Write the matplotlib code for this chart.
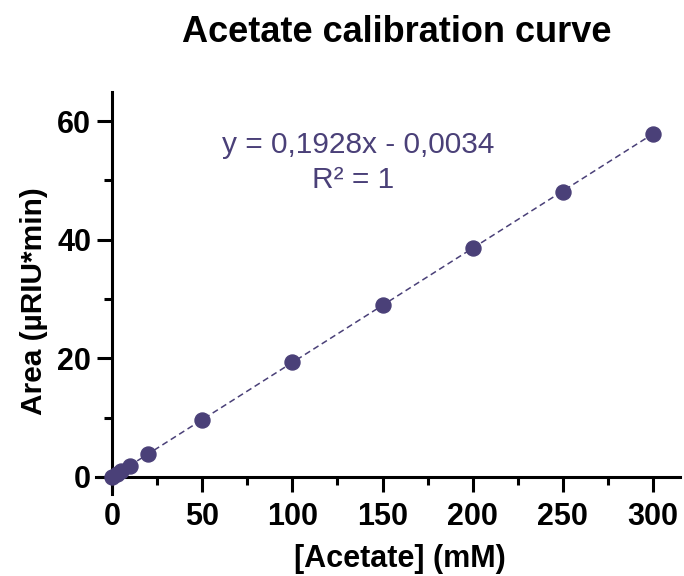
import matplotlib
matplotlib.use("Agg")
import matplotlib.pyplot as plt
import numpy as np
from matplotlib.ticker import MultipleLocator

plt.rcParams['font.family'] = ['Liberation Sans', 'DejaVu Sans']

# Data
acetate_mM = [0, 2.5, 5, 10, 20, 50, 100, 150, 200, 250, 300]
area = [0.0, 0.5, 1.0, 1.9, 3.9, 9.6, 19.3, 29.0, 38.6, 48.1, 57.8]
slope = 0.1928
intercept = -0.0034
title = "Acetate calibration curve"
xlabel = "[Acetate] (mM)"
ylabel = "Area (µRIU*min)"
eq_text = "y = 0,1928x - 0,0034"
r2_text = "R² = 1"

color = '#4a4078'
W, H = 684, 576

fig = plt.figure(figsize=(6.84, 5.76), dpi=100)
ax = fig.add_axes([96/W, (H-494)/H, (680-96)/W, (494-92)/H])

ax.plot(acetate_mM, area, 'o', color=color, markersize=10.8, zorder=3, clip_on=False)
xfit = np.array([acetate_mM[0], acetate_mM[-1]])
ax.plot(xfit, slope*xfit + intercept, '--', color=color, linewidth=1.1,
        dashes=(4, 2.5), zorder=2)

ax.set_xlim(-8.9, 315)
ax.set_ylim(-2.9, 64.9)

for s in ['top', 'right']:
    ax.spines[s].set_visible(False)
ax.spines['left'].set_position(('data', 0))
ax.spines['bottom'].set_position(('data', 0))
for s in ['left', 'bottom']:
    ax.spines[s].set_linewidth(2.2)

ax.xaxis.set_major_locator(MultipleLocator(50))
ax.xaxis.set_minor_locator(MultipleLocator(25))
ax.yaxis.set_major_locator(MultipleLocator(20))
ax.yaxis.set_minor_locator(MultipleLocator(10))
ax.tick_params(which='major', length=11, width=2.2, direction='out')
ax.tick_params(axis='y', which='major', pad=4)
ax.tick_params(axis='x', which='major', pad=7.5)
ax.tick_params(which='minor', length=5.5, width=2.2, direction='out')
tick_family = ['Liberation Sans Narrow', 'Liberation Sans', 'DejaVu Sans']
for lab in ax.get_xticklabels() + ax.get_yticklabels():
    lab.set_fontweight('bold')
    lab.set_family(tick_family)
    lab.set_fontsize(22)

fig.text(397/W, 1 - 42/H, title, ha='center', va='baseline',
         fontsize=26, fontweight='bold')
fig.text(400/W, 1 - 567/H, xlabel, ha='center', va='baseline',
         fontsize=22, fontweight='bold')
fig.text(34/W, 1 - 301/H, ylabel, ha='center', va='center',
         fontsize=21.5, fontweight='bold', rotation=90)

fig.text(358.5/W, 1 - 153/H, eq_text, ha='center', va='baseline', fontsize=21.5, color=color)
fig.text(353.5/W, 1 - 188/H, r2_text, ha='center', va='baseline', fontsize=21.5, color=color)

fig.savefig('out.png', dpi=100)
